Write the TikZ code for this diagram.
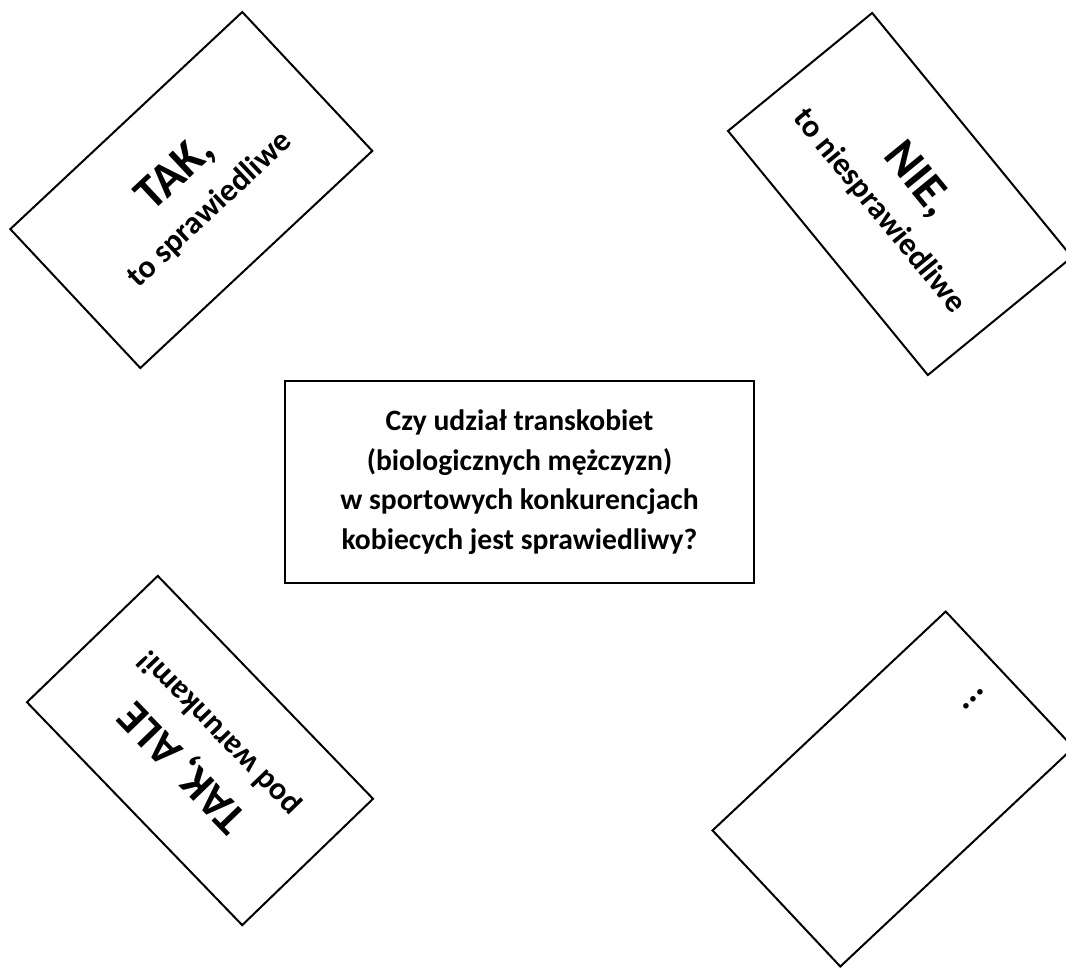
\documentclass[tikz,border=0pt]{standalone}
\usepackage{fontspec}
\setmainfont{Carlito}
\usetikzlibrary{calc}

\begin{document}
\begin{tikzpicture}[x=0.75pt, y=0.75pt]
        \tikzstyle{card} = [rectangle, draw=black, line width=1.5pt, inner sep=0pt, text centered, align=center, font=\bfseries\fontsize{24}{34}\selectfont]
        \tikzstyle{questionbox} = [rectangle, draw=black, line width=1.5pt, minimum width=351.75pt, minimum height=151.5pt, text centered, align=center, font=\bfseries\fontsize{22.2}{29.8}\selectfont]
        
        \clip (0,0) rectangle (1066,-967);
        
        \node (question) [questionbox] at (519.5,-482) {Czy udział transkobiet\\(biologicznych mężczyzn)\\w sportowych konkurencjach\\kobiecych jest sprawiedliwy?};
        
        \node (tak) [card, minimum width=238.3pt, minimum height=142.7pt, rotate=43.1] at (191.3,-190) {\fontsize{36}{40}\selectfont TAK,\\to sprawiedliwe};
        \node (nie) [card, minimum width=236.6pt, minimum height=139.7pt, rotate=-50.7] at (900,-194) {\fontsize{36}{40}\selectfont NIE,\\to niesprawiedliwe};
        \node (takale) [card, minimum width=232.4pt, minimum height=136.4pt, rotate=134] at (200,-750.5) {\fontsize{34}{40}\selectfont TAK, ALE\\pod warunkami!};
        \node (etc) [card, minimum width=239.9pt, minimum height=140pt, rotate=43.2] at (893,-789) {};
        \node (etcdots) [rotate=43.2, inner sep=0pt, font=\bfseries\fontsize{28}{34}\selectfont] at ($(etc.center)+(80.6,89.5)$) {...};
    \end{tikzpicture}
\end{document}
